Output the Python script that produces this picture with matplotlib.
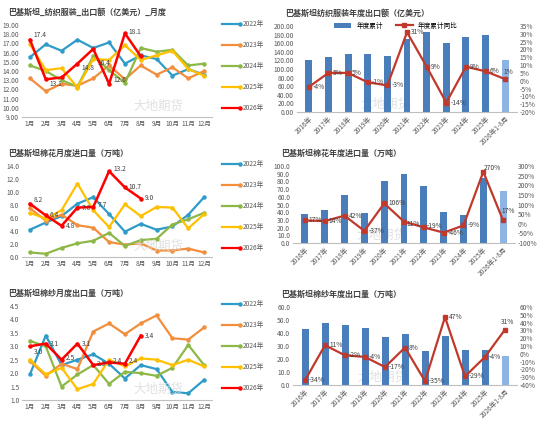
import matplotlib.pyplot as plt
import numpy as np

plt.rcParams['font.family'] = ['Noto Sans CJK SC', 'DejaVu Sans']

months = ['1月', '2月', '3月', '4月', '5月', '6月', '7月', '8月', '9月', '10月', '11月', '12月']
years = ['2016年', '2017年', '2018年', '2019年', '2020年', '2021年', '2022年', '2023年', '2024年', '2025年', '2026年1-8月']
series_names = ['2022年', '2023年', '2024年', '2025年', '2026年']
series_colors = ['#2E9BC8', '#F28E3C', '#8DB847', '#FFC000', '#FF0000']

# 纺织服装出口额 月度
apparel_2022 = [15.5, 16.9, 16.2, 17.4, 16.5, 17.1, 14.8, 15.7, 15.3, 13.5, 14.2, 13.6]
apparel_2023 = [13.2, 11.8, 12.6, 12.4, 13.2, 14.6, 13.1, 14.6, 13.6, 14.4, 13.2, 14.0]
apparel_2024 = [14.6, 14.0, 13.0, 12.3, 15.6, 14.1, 12.7, 16.5, 16.1, 16.3, 14.6, 14.8]
apparel_2025 = [16.9, 14.1, 14.3, 12.2, 15.3, 15.2, 16.8, 15.2, 15.7, 16.2, 14.2, 13.5]
apparel_2026 = [17.4, 13.1, 13.3, 14.8, 16.4, 12.6, 18.1, 15.6]

# 纺织服装 年度
apparel_annual = [122, 128, 135, 134, 130, 169, 185, 160, 174, 179, 120]
apparel_yoy = [-4, 5, 5, -1, -3, 31, 9, -14, 9, 6, 1]

# 棉花进口 月度
cotton_2022 = [4.2, 5.3, 6.3, 8.2, 9.2, 6.6, 3.9, 5.1, 4.2, 4.7, 6.5, 9.2]
cotton_2023 = [7.5, 5.6, 6.5, 4.9, 4.5, 2.3, 1.9, 2.1, 1.0, 1.0, 1.3, 0.7]
cotton_2024 = [0.7, 0.5, 1.4, 2.1, 2.5, 3.7, 1.7, 2.6, 2.8, 5.0, 5.8, 6.8]
cotton_2025 = [6.8, 5.9, 7.2, 11.3, 7.2, 4.6, 8.1, 6.3, 7.7, 7.6, 4.4, 6.6]
cotton_2026 = [8.2, 6.4, 4.8, 7.6, 7.7, 13.2, 10.7, 9.0]

cotton_annual = [38, 43, 62, 39, 81, 90, 74, 40, 36, 84, 67]
cotton_yoy = [17, 14, 42, -37, 106, 11, -19, -46, -9, 270, 17]

# 棉纱出口 月度
yarn_2022 = [1.95, 3.4, 2.3, 2.5, 2.7, 2.35, 1.8, 2.3, 2.15, 1.3, 1.25, 1.75]
yarn_2023 = [2.45, 1.9, 2.35, 2.15, 3.55, 3.85, 3.45, 3.85, 4.15, 3.3, 3.25, 3.7]
yarn_2024 = [3.2, 3.0, 1.5, 1.95, 2.3, 1.6, 2.05, 2.0, 1.9, 2.2, 3.05, 2.3]
yarn_2025 = [2.5, 1.95, 2.2, 1.4, 1.6, 2.5, 2.25, 2.55, 2.5, 2.3, 2.5, 2.25]
yarn_2026 = [3.0, 3.1, 2.5, 3.1, 2.3, 2.4, 2.35, 3.4]

yarn_annual = [43, 48, 46, 44, 37, 39, 26, 38, 27, 27, 22]
yarn_yoy = [-34, 11, -2, -4, -17, 8, -35, 47, -29, -4, 31]

W, H = 550, 424
fig = plt.figure(figsize=(5.5, 4.24), dpi=100)
FS = 4.8


def rect(x0, y0, x1, y1):
    return [x0 / W, 1 - y1 / H, (x1 - x0) / W, (y1 - y0) / H]


def style(ax):
    for s in ['top', 'right', 'left']:
        ax.spines[s].set_visible(False)
    ax.spines['bottom'].set_color('#BFBFBF')
    ax.tick_params(labelsize=FS, length=0, colors='#595959', pad=2)


def put_title(ax, x, y, title):
    ax.text(x / W, 1 - y / H, title, transform=fig.transFigure, fontsize=5.8,
            color='#404040', va='center', ha='left', clip_on=False, fontweight='bold')


def monthly(box, title, data, ylim, step, fmt, leg_y, labels):
    ax = fig.add_axes(rect(*box))
    x = np.arange(12)
    lines = []
    for vals, c in zip(data, series_colors):
        ln, = ax.plot(x[:len(vals)], vals, color=c, lw=1.6 if c != '#FF0000' else 1.8,
                      marker='o', ms=2.2)
        lines.append(ln)
    for i, v in enumerate(data[4]):
        if i in labels:
            ax.text(i + 0.25, v + labels[i], f'{v:.1f}', fontsize=FS, color='#404040', va='center')
    ax.set_xlim(-0.5, 11.5)
    ax.set_ylim(*ylim)
    ax.set_yticks(np.arange(ylim[0], ylim[1] + 1e-6, step))
    ax.yaxis.set_major_formatter(plt.FormatStrFormatter(fmt))
    ax.set_xticks(x, months)
    style(ax)
    put_title(ax, box[0] - 14, box[1] - 13, title)
    for k, (ln, name) in enumerate(zip(lines, series_names)):
        yy = 1 - (leg_y + 21 * k) / H
        fig.add_artist(plt.Line2D([222 / W, 240 / W], [yy, yy], color=ln.get_color(), lw=1.6,
                                  marker='o', ms=2.2, markevery=[1], transform=fig.transFigure))
        fig.text(243 / W, yy, name, fontsize=FS, color='#595959', va='center')
    ax.text(0.72, 0.08, '大地期货', transform=ax.transAxes, fontsize=9, color='#D9D9D9',
            ha='center', alpha=0.8)
    return ax


def annual(box, title, bars, yoy, ylim, ystep, fmt, rlim, rstep, legend=False, offs=None):
    offs = offs or {}
    ax = fig.add_axes(rect(*box))
    x = np.arange(len(years))
    colors = ['#4A7EBB'] * (len(years) - 1) + ['#8DB4E2']
    ax.bar(x, bars, width=0.35, color=colors, label='年度累计')
    ax.set_ylim(*ylim)
    ax.set_yticks(np.arange(ylim[0], ylim[1] + 1e-6, ystep))
    ax.yaxis.set_major_formatter(plt.FormatStrFormatter(fmt))
    ax.set_xlim(-0.6, len(years) - 0.4)
    ax.set_xticks(x, years, rotation=45, ha='right', rotation_mode='anchor')
    style(ax)
    ax2 = ax.twinx()
    ax2.plot(x, yoy, color='#C0392B', lw=1.6, marker='s', ms=2.5, label='年度累计同比')
    span = rlim[1] - rlim[0]
    for i, v in enumerate(yoy):
        dx, dy = offs.get(i, (0.2, 0))
        ax2.text(i + dx, v + dy * span, f'{v}%', fontsize=FS, color='#404040', va='center')
    ax2.set_ylim(*rlim)
    ax2.set_yticks(np.arange(rlim[0], rlim[1] + 1e-6, rstep))
    ax2.yaxis.set_major_formatter(plt.FuncFormatter(lambda v, p: f'{v:.0f}%'))
    for s in ['top', 'right', 'left', 'bottom']:
        ax2.spines[s].set_visible(False)
    ax2.tick_params(labelsize=FS, length=0, colors='#595959', pad=2)
    put_title(ax, box[0] - 12, box[1] - 13, title)
    if legend:
        h1, l1 = ax.get_legend_handles_labels()
        h2, l2 = ax2.get_legend_handles_labels()
        ax.legend(h1 + h2, l1 + l2, loc='upper center', bbox_to_anchor=(0.45, 1.12), ncol=2,
                  fontsize=FS, frameon=False, handlelength=2.5)
    ax.text(0.4, 0.05, '大地期货', transform=ax.transAxes, fontsize=9, color='#D9D9D9',
            ha='center', alpha=0.8, zorder=0)


monthly((22, 25, 212, 117), '巴基斯坦_纺织服装_出口额（亿美元）_月度',
        [apparel_2022, apparel_2023, apparel_2024, apparel_2025, apparel_2026],
        (9, 19), 1, '%.2f', 24,
        {0: 0.5, 1: -0.5, 3: -0.5, 4: -1.5, 5: 0.4, 6: 0.1})
annual((297, 26, 517, 112), '巴基斯坦纺织服装年度出口额（亿美元）',
       apparel_annual, apparel_yoy, (0, 200), 20, '%.2f', (-20, 35), 5, legend=True,
       offs={10: (-0.1, 0.08)})
monthly((22, 166, 212, 257), '巴基斯坦棉花月度进口量（万吨）',
        [cotton_2022, cotton_2023, cotton_2024, cotton_2025, cotton_2026],
        (0, 14), 2, '%.1f', 164,
        {0: 0.6, 1: 0, 2: 0, 3: 0, 4: 0.3, 5: 0.3, 6: 0, 7: 0})
annual((293, 166, 515, 243), '巴基斯坦棉花年度进口量（万吨）',
       cotton_annual, cotton_yoy, (0, 100), 10, '%.1f', (-100, 300), 50,
       offs={5: (0.1, -0.03), 6: (0.15, 0.02), 10: (-0.1, 0.12), 9: (0.0, 0.05)})
monthly((22, 306, 212, 400), '巴基斯坦棉纱月度出口量（万吨）',
        [yarn_2022, yarn_2023, yarn_2024, yarn_2025, yarn_2026],
        (1.0, 4.5), 0.5, '%.1f', 304,
        {0: -0.2, 1: 0, 2: 0.05, 3: 0, 4: 0.05, 5: 0.05, 6: 0.1, 7: 0})
annual((293, 307, 517, 385), '巴基斯坦棉纱年度出口量（万吨）',
       yarn_annual, yarn_yoy, (0, 60), 10, '%.1f', (-40, 60), 10,
       offs={10: (-0.2, 0.1)})

fig.savefig('out.png', dpi=100)
